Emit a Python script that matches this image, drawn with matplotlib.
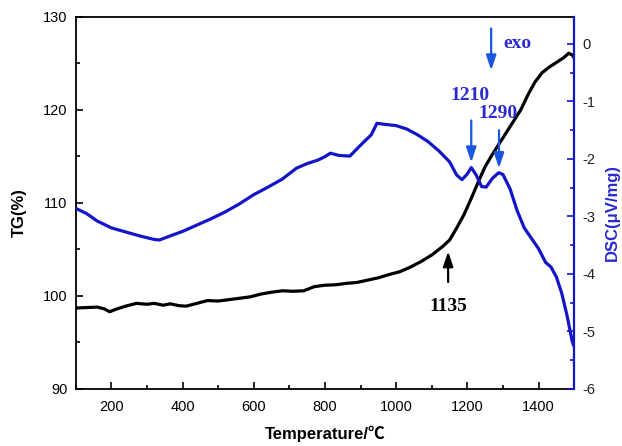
import numpy as np
import matplotlib
matplotlib.use("Agg")
import matplotlib.pyplot as plt
from matplotlib.ticker import MultipleLocator

plt.rcParams['font.family'] = ['Liberation Sans', 'Noto Sans CJK SC', 'DejaVu Sans']
plt.rcParams['axes.unicode_minus'] = False

# TG curve (temperature / %)
tg_temp = [100, 130, 160, 180, 195, 215, 240, 270, 300, 320, 345, 365, 390, 410,
           440, 470, 500, 530, 560, 590, 620, 650, 680, 710, 740, 770, 800, 830,
           860, 890, 920, 950, 980, 1010, 1040, 1070, 1100, 1130, 1150, 1170,
           1190, 1210, 1230, 1250, 1270, 1290, 1310, 1330, 1350, 1370, 1390,
           1410, 1430, 1450, 1470, 1485, 1495, 1500]
tg_val = [98.7, 98.75, 98.8, 98.6, 98.3, 98.6, 98.9, 99.2, 99.1, 99.2, 99.0, 99.15,
          98.95, 98.9, 99.2, 99.5, 99.45, 99.6, 99.75, 99.9, 100.2, 100.4, 100.55,
          100.5, 100.55, 101.0, 101.15, 101.2, 101.35, 101.45, 101.7, 101.95,
          102.3, 102.6, 103.1, 103.7, 104.4, 105.3, 106.0, 107.3, 108.7, 110.4,
          112.2, 113.9, 115.2, 116.4, 117.6, 118.8, 120.0, 121.6, 123.0, 124.0,
          124.6, 125.1, 125.6, 126.1, 125.9, 125.6]

# DSC curve (temperature / uV/mg)
dsc_temp = [100, 130, 160, 200, 240, 280, 320, 335, 360, 400, 440, 480, 520, 560,
            600, 640, 680, 720, 750, 780, 800, 815, 840, 870, 900, 930, 946, 970,
            1000, 1030, 1060, 1090, 1120, 1150, 1170, 1185, 1200, 1211, 1225,
            1240, 1253, 1270, 1288, 1300, 1320, 1340, 1360, 1380, 1400, 1420,
            1435, 1450, 1465, 1480, 1495, 1500]
dsc_val = [-2.86, -2.95, -3.08, -3.20, -3.27, -3.34, -3.40, -3.41, -3.35, -3.26,
           -3.15, -3.04, -2.92, -2.78, -2.62, -2.49, -2.35, -2.16, -2.08, -2.02,
           -1.96, -1.90, -1.94, -1.95, -1.76, -1.58, -1.38, -1.40, -1.42, -1.48,
           -1.58, -1.70, -1.86, -2.05, -2.28, -2.36, -2.26, -2.15, -2.28, -2.48,
           -2.49, -2.34, -2.24, -2.27, -2.52, -2.90, -3.20, -3.38, -3.56, -3.80,
           -3.88, -4.05, -4.33, -4.72, -5.18, -5.26]

BLUE_LINE = '#1414c8'
BLUE_ARROW = '#1a55e0'
BLUE_TEXT = '#2a2ad0'

fig = plt.figure(figsize=(6.22, 4.46), dpi=100)
ax1 = fig.add_axes([0.122, 0.128, 0.801, 0.834])
ax2 = ax1.twinx()

ax1.plot(tg_temp, tg_val, color='black', lw=2.3)
ax2.plot(dsc_temp, dsc_val, color=BLUE_LINE, lw=2.3)

ax1.set_xlim(100, 1500)
ax1.set_ylim(90, 130)
ax2.set_ylim(-6, 0.47)

ax1.xaxis.set_major_locator(MultipleLocator(200))
ax1.xaxis.set_minor_locator(MultipleLocator(100))
ax1.yaxis.set_major_locator(MultipleLocator(10))
ax1.yaxis.set_minor_locator(MultipleLocator(5))
ax2.yaxis.set_major_locator(MultipleLocator(1))
ax2.yaxis.set_minor_locator(MultipleLocator(0.5))

for a in (ax1, ax2):
    a.tick_params(which='major', direction='in', length=5, width=1.2, labelsize=10.5, pad=6)
    a.tick_params(which='minor', direction='in', length=3, width=1.2)
ax1.tick_params(axis='x', pad=8)
ax1.tick_params(axis='x', which='both', top=False)
ax1.tick_params(axis='y', which='both', right=False)
ax2.tick_params(axis='y', which='both', colors=BLUE_LINE, labelcolor='#222222')

for s in ('left', 'bottom', 'top'):
    ax1.spines[s].set_linewidth(1.3)
ax1.spines['right'].set_visible(False)
for s in ('left', 'bottom', 'top'):
    ax2.spines[s].set_visible(False)
ax2.spines['right'].set_color(BLUE_LINE)
ax2.spines['right'].set_linewidth(1.6)

ax1.set_xlabel('Temperature/℃', fontsize=12, fontweight='bold', labelpad=8)
ax1.set_ylabel('TG(%)', fontsize=12, fontweight='bold')
ax2.set_ylabel('DSC(μV/mg)', fontsize=12, fontweight='bold', color=BLUE_TEXT)
ax1.yaxis.set_label_coords(-0.098, 0.473)
ax2.yaxis.set_label_coords(1.062, 0.473)

serif = dict(family='Liberation Serif', fontweight='bold', fontsize=14)
arrow_blue = dict(arrowstyle='-|>,head_length=0.9,head_width=0.3', color=BLUE_ARROW,
                  lw=1.6, shrinkA=0, shrinkB=0)
arrow_black = dict(arrowstyle='-|>,head_length=0.9,head_width=0.3', color='black',
                   lw=1.6, shrinkA=0, shrinkB=0)

ax2.annotate('', xy=(1267, -0.46), xytext=(1267, 0.27), arrowprops=arrow_blue)
ax2.text(1300, 0.0, 'exo', color=BLUE_TEXT, ha='left', va='center', **serif)

ax2.annotate('', xy=(1211, -2.06), xytext=(1211, -1.33), arrowprops=arrow_blue)
ax2.text(1208, -0.90, '1210', color=BLUE_TEXT, ha='center', va='center', **serif)

ax2.annotate('', xy=(1289, -2.16), xytext=(1289, -1.50), arrowprops=arrow_blue)
ax2.text(1286, -1.21, '1290', color=BLUE_TEXT, ha='center', va='center', **serif)

ax1.annotate('', xy=(1146, 104.8), xytext=(1146, 101.5), arrowprops=arrow_black)
ax1.text(1146, 98.9, '1135', color='black', ha='center', va='center', **serif)

fig.savefig('out.png', dpi=100)
